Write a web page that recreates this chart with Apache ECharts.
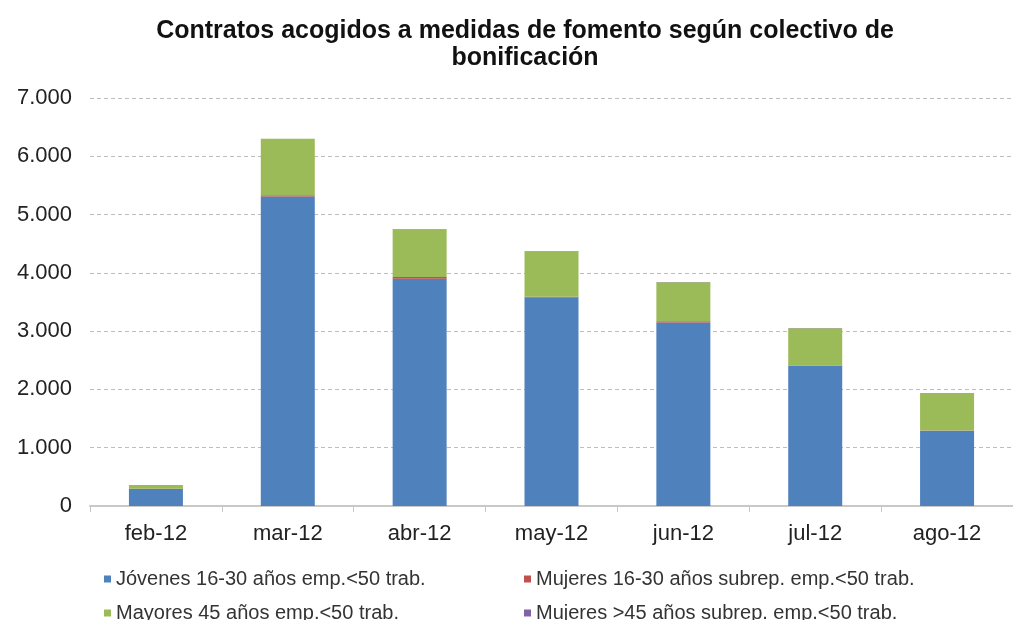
<!DOCTYPE html>
<html>
<head>
<meta charset="utf-8">
<script src="https://cdn.jsdelivr.net/npm/echarts@6/dist/echarts.min.js"></script>
<style>
  html, body { margin: 0; padding: 0; background: #fff; }
  #chart { width: 1013px; height: 620px; }
</style>
</head>
<body>
<div id="chart"></div>
<script>
// datos
const meses = ['feb-12', 'mar-12', 'abr-12', 'may-12', 'jun-12', 'jul-12', 'ago-12']
const jovenes = [290, 5310, 3900, 3580, 3150, 2400, 1290]
const mujeres1630 = [5, 20, 30, 10, 20, 10, 5]
const mayores45 = [65, 970, 820, 780, 670, 640, 645]
const mujeres45 = [0, 3, 3, 3, 3, 3, 0]

const nombres = [
  'Jóvenes 16-30 años emp.<50 trab.',
  'Mujeres 16-30 años subrep. emp.<50 trab.',
  'Mayores 45 años emp.<50 trab.',
  'Mujeres >45 años subrep. emp.<50 trab.'
]
const colores = ['#4F81BD', '#C0504D', '#9BBB59', '#8064A2']
const valores = [jovenes, mujeres1630, mayores45, mujeres45]

const fuente = 'Liberation Sans, Arial, sans-serif'

const chart = echarts.init(document.getElementById('chart'))

// leyenda en dos columnas
const legendBase = {
  orient: 'vertical',
  icon: 'rect',
  itemWidth: 7,
  itemHeight: 7,
  itemGap: 14,
  height: 70,
  textStyle: { fontFamily: fuente, fontSize: 20, color: '#333' }
}

chart.setOption({
  animation: false,
  title: {
    text: 'Contratos acogidos a medidas de fomento según colectivo de\nbonificación',
    left: 520,
    top: 13,
    textAlign: 'center',
    textStyle: {
      fontFamily: fuente,
      fontSize: 25,
      fontWeight: 'bold',
      color: '#111',
      lineHeight: 27
    }
  },
  legend: [
    Object.assign({}, legendBase, { left: 99, top: 564, data: [nombres[0], nombres[2]] }),
    Object.assign({}, legendBase, { left: 519, top: 564, data: [nombres[1], nombres[3]] })
  ],
  grid: { left: 90, right: -9, top: 98, bottom: 114 },
  xAxis: {
    type: 'category',
    data: meses,
    axisLine: { lineStyle: { color: '#c8c8c8', width: 2 } },
    axisTick: { show: true, length: 6, lineStyle: { color: '#c8c8c8' } },
    axisLabel: { fontFamily: fuente, fontSize: 22, color: '#222', margin: 17 }
  },
  yAxis: {
    type: 'value',
    min: 0,
    max: 7000,
    interval: 1000,
    axisLine: { show: false },
    axisTick: { show: false },
    axisLabel: {
      fontFamily: fuente,
      fontSize: 22,
      color: '#222',
      margin: 18,
      formatter: v => v === 0 ? '0' : String(v).replace(/\B(?=(\d{3})+(?!\d))/g, '.')
    },
    splitLine: { lineStyle: { color: '#bdbdbd', type: [4, 3] } }
  },
  series: nombres.map((n, i) => ({
    name: n,
    type: 'bar',
    stack: 'total',
    barWidth: 54,
    itemStyle: { color: colores[i] },
    data: valores[i]
  }))
})
</script>
</body>
</html>
